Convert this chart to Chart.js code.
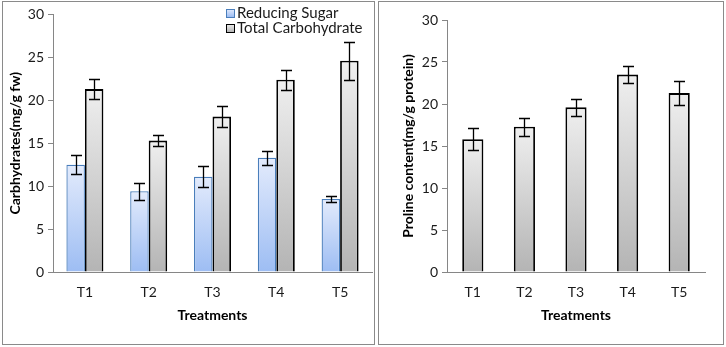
<!DOCTYPE html>
<html>
<head>
<meta charset="utf-8">
<script src="https://cdn.jsdelivr.net/npm/chart.js@4"></script>
<style>
    body { margin: 0; background: #fff; width: 726px; height: 347px; position: relative; overflow: hidden; }
    .panel { position: absolute; border: 1px solid #8a8a8a; background: #fff; }
    #leftPanel { left: 2px; top: 1px; width: 371px; height: 342px; }
    #rightPanel { left: 378px; top: 1px; width: 344px; height: 342px; }
    canvas { display: block; }
</style>
</head>
<body>
<div class="panel" id="leftPanel"><canvas id="carbChart" width="371" height="342"></canvas></div>
<div class="panel" id="rightPanel"><canvas id="prolineChart" width="344" height="342"></canvas></div>

<script>
// Treatments and measured means (+/- error)
const treatments = ['T1', 'T2', 'T3', 'T4', 'T5'];
const reducingSugar = [12.5, 9.4, 11.1, 13.3, 8.5];
const reducingSugarErr = [1.1, 1.0, 1.2, 0.8, 0.3];
const totalCarb = [21.3, 15.3, 18.1, 22.4, 24.6];
const totalCarbErr = [1.15, 0.65, 1.2, 1.15, 2.2];
const proline = [15.8, 17.3, 19.6, 23.5, 21.3];
const prolineErr = [1.3, 1.05, 1.05, 1.0, 1.4];
const yTicks = [0, 5, 10, 15, 20, 25, 30];

const FONT = "Lato, 'Open Sans', sans-serif";
const AXIS_GREY = '#868686';
const TEXT = '#1a1a1a';

// vertical gradient per bar: light at the top, darker at the base
function barGradient(light, dark) {
    return function(c) {
        const y = c.chart.scales.y;
        if (!y || c.type !== 'data') return dark;
        const top = y.getPixelForValue(c.raw);
        const base = y.getPixelForValue(0);
        if (!isFinite(top) || !isFinite(base) || top === base) return dark;
        const g = c.chart.ctx.createLinearGradient(0, top, 0, base);
        g.addColorStop(0, light);
        g.addColorStop(1, dark);
        return g;
    };
}

// whiskers from dataset.errors
const errorBars = {
    id: 'errorBars',
    afterDatasetsDraw(chart) {
        const ctx = chart.ctx;
        const y = chart.scales.y;
        ctx.save();
        ctx.strokeStyle = '#000';
        ctx.lineWidth = 1.3;
        chart.data.datasets.forEach((ds, i) => {
            const meta = chart.getDatasetMeta(i);
            meta.data.forEach((bar, j) => {
                const v = ds.data[j], e = ds.errors[j];
                const top = Math.round(y.getPixelForValue(v + e)) + 0.5;
                const bot = Math.round(y.getPixelForValue(v - e)) + 0.5;
                const x = Math.round(bar.x) + 0.5;
                const cap = 5.5;
                ctx.beginPath();
                ctx.moveTo(x, top); ctx.lineTo(x, bot);
                ctx.moveTo(x - cap, top); ctx.lineTo(x + cap, top);
                ctx.moveTo(x - cap, bot); ctx.lineTo(x + cap, bot);
                ctx.stroke();
            });
        });
        ctx.restore();
    }
};

// small legend in the top right corner of the carbohydrate chart
const cornerLegend = {
    id: 'cornerLegend',
    afterDraw(chart) {
        const ctx = chart.ctx;
        ctx.save();
        ctx.font = '15px ' + FONT;
        ctx.textBaseline = 'middle';
        chart.data.datasets.forEach((ds, i) => {
            const sy = 7 + i * 15;
            const g = ctx.createLinearGradient(0, sy, 0, sy + 8);
            g.addColorStop(0, ds.legendLight);
            g.addColorStop(1, ds.legendDark);
            ctx.fillStyle = g;
            ctx.fillRect(223, sy, 8, 8);
            ctx.strokeStyle = ds.borderColor;
            ctx.lineWidth = 1;
            ctx.strokeRect(223.5, sy + 0.5, 8, 8);
            ctx.fillStyle = TEXT;
            ctx.fillText(ds.label, 234, sy + 4);
        });
        ctx.restore();
    }
};

function yScale(title, width, titlePad) {
    return {
        min: 0, max: 30,
        afterBuildTicks: s => { s.ticks = yTicks.map(v => ({ value: v })); },
        afterFit: s => { s.width = width; },
        grid: { drawOnChartArea: false, drawTicks: true, tickLength: 5, color: AXIS_GREY },
        border: { color: AXIS_GREY, width: 1 },
        ticks: { color: TEXT, padding: 4, font: { family: FONT, size: 14 } },
        title: {
            display: true, text: title, color: '#000',
            padding: { top: titlePad, bottom: 0 },
            font: { family: FONT, size: 14, weight: 'bold' }
        }
    };
}

function xScale() {
    return {
        afterFit: s => { s.height = 72; },
        grid: { drawOnChartArea: false, drawTicks: false, color: AXIS_GREY },
        border: { color: AXIS_GREY, width: 1 },
        ticks: { color: TEXT, padding: 12, font: { family: FONT, size: 14 } },
        title: {
            display: true, text: 'Treatments', color: '#000',
            padding: { top: 0, bottom: 20 },
            font: { family: FONT, size: 14, weight: 'bold' }
        }
    };
}

new Chart(document.getElementById('carbChart'), {
    type: 'bar',
    data: {
        labels: treatments,
        datasets: [
            {
                label: 'Reducing Sugar',
                data: reducingSugar,
                errors: reducingSugarErr,
                backgroundColor: barGradient('#e3ebfc', '#9dbdf3'),
                borderColor: '#4a7ebb',
                borderWidth: 1.3,
                legendLight: '#e3ebfc', legendDark: '#9dbdf3'
            },
            {
                label: 'Total Carbohydrate',
                data: totalCarb,
                errors: totalCarbErr,
                backgroundColor: barGradient('#efefef', '#b4b4b4'),
                borderColor: '#000',
                borderWidth: 1.8,
                legendLight: '#efefef', legendDark: '#b4b4b4'
            }
        ]
    },
    options: {
        responsive: false,
        animation: false,
        categoryPercentage: 0.58,
        barPercentage: 1.0,
        layout: { padding: { left: 0, right: 2, top: 12, bottom: 0 } },
        plugins: { legend: { display: false }, tooltip: { enabled: false } },
        scales: {
            x: xScale(),
            y: yScale('Carbhydrates(mg/g fw)', 50, 4)
        }
    },
    plugins: [errorBars, cornerLegend]
});

new Chart(document.getElementById('prolineChart'), {
    type: 'bar',
    data: {
        labels: treatments,
        datasets: [
            {
                label: 'Proline',
                data: proline,
                errors: prolineErr,
                backgroundColor: barGradient('#efefef', '#b4b4b4'),
                borderColor: '#000',
                borderWidth: 1.8
            }
        ]
    },
    options: {
        responsive: false,
        animation: false,
        categoryPercentage: 1.0,
        barPercentage: 0.41,
        layout: { padding: { left: 0, right: 18, top: 18, bottom: 0 } },
        plugins: { legend: { display: false }, tooltip: { enabled: false } },
        scales: {
            x: xScale(),
            y: yScale('Proline content(mg/g protein)', 68, 21)
        }
    },
    plugins: [errorBars]
});
</script>
</body>
</html>
